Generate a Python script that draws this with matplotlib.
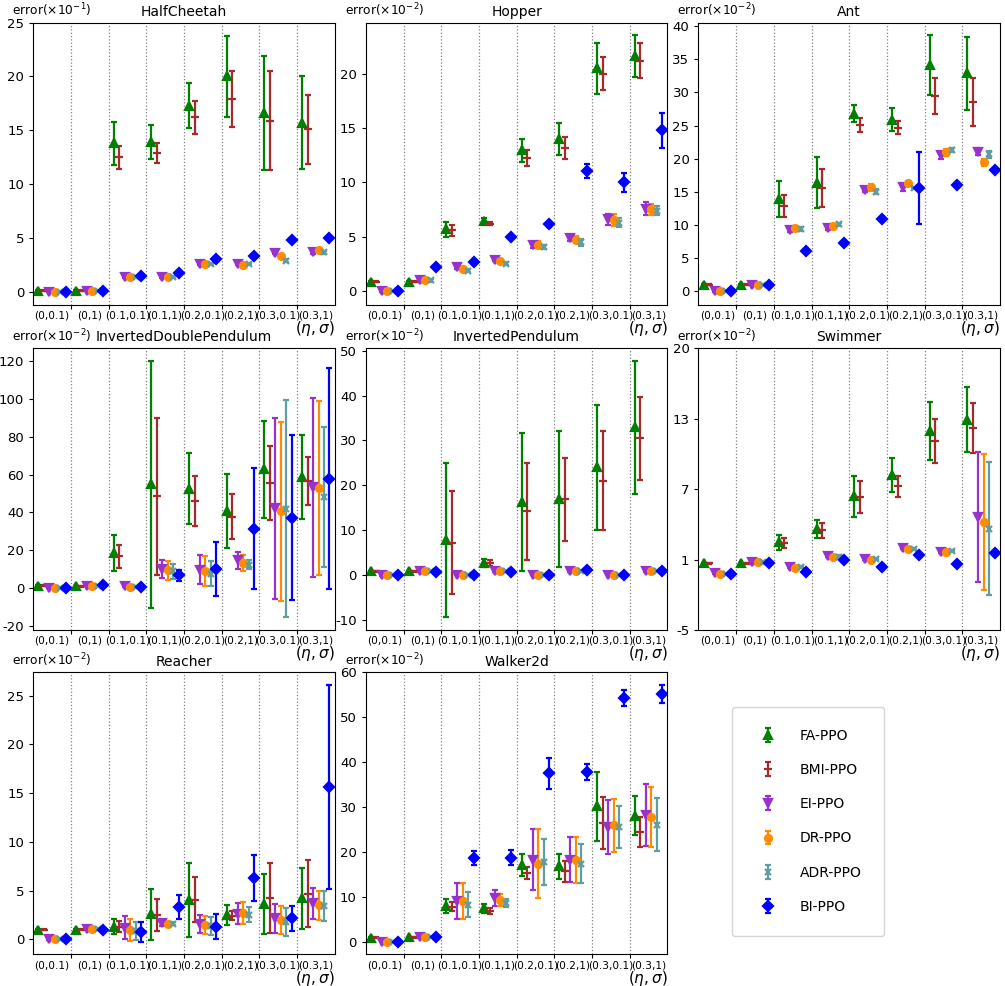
import matplotlib
matplotlib.use("Agg")
import matplotlib.pyplot as plt
import numpy as np

plt.rcParams["axes.unicode_minus"] = False

settings = ["(0,0.1)", "(0,1)", "(0.1,0.1)", "(0.1,1)", "(0.2,0.1)", "(0.2,1)", "(0.3,0.1)", "(0.3,1)"]
methods = ["FA-PPO", "BMI-PPO", "EI-PPO", "DR-PPO", "ADR-PPO", "BI-PPO"]
colors = ["green", "brown", "darkorchid", "darkorange", "cadetblue", "blue"]
markers = ["^", "_", "v", "o", "x", "D"]

envs = ["HalfCheetah", "Hopper", "Ant", "InvertedDoublePendulum", "InvertedPendulum",
        "Swimmer", "Reacher", "Walker2d"]
exponents = [-1, -2, -2, -2, -2, -2, -2, -2]

# rows: FA, BMI, EI, DR, ADR, BI ; columns: settings
hc_mean = [[0.1, 0.1, 13.8, 13.9, 17.3, 20.0, 16.6, 15.7],
           [0.1, 0.1, 12.5, 12.9, 16.2, 17.9, 15.9, 15.1],
           [0.0, 0.1, 1.4, 1.4, 2.6, 2.6, 3.6, 3.65],
           [0.0, 0.1, 1.4, 1.4, 2.6, 2.5, 3.3, 3.85],
           [0.0, 0.1, 1.4, 1.4, 2.6, 2.6, 2.9, 3.65],
           [0.0, 0.1, 1.5, 1.7, 3.0, 3.35, 4.8, 5.0]]
hc_err = [[0.05, 0.05, 2.0, 1.6, 2.1, 3.8, 5.3, 4.3],
          [0.05, 0.05, 1.05, 0.9, 1.55, 2.6, 4.6, 3.2],
          [0.05, 0.05, 0.1, 0.1, 0.1, 0.1, 0.1, 0.1],
          [0.05, 0.05, 0.1, 0.1, 0.1, 0.1, 0.1, 0.1],
          [0.05, 0.05, 0.1, 0.1, 0.1, 0.1, 0.1, 0.1],
          [0.05, 0.05, 0.1, 0.1, 0.1, 0.1, 0.1, 0.1]]

hop_mean = [[0.9, 0.9, 5.7, 6.45, 12.95, 14.0, 20.5, 21.6],
            [0.9, 0.9, 5.6, 6.2, 12.25, 13.2, 20.0, 21.2],
            [0.0, 1.0, 2.2, 2.85, 4.25, 4.9, 6.6, 7.6],
            [0.0, 1.0, 2.05, 2.8, 4.3, 4.75, 6.55, 7.55],
            [0.0, 1.0, 1.9, 2.55, 4.05, 4.5, 6.3, 7.4],
            [0.0, 2.2, 2.7, 5.0, 6.15, 11.05, 10.0, 14.8]]
hop_err = [[0.05, 0.05, 0.7, 0.3, 1.05, 1.45, 2.35, 1.9],
           [0.05, 0.05, 0.5, 0.15, 0.77, 1.0, 1.5, 1.6],
           [0.05, 0.1, 0.15, 0.1, 0.3, 0.25, 0.5, 0.6],
           [0.05, 0.1, 0.15, 0.1, 0.3, 0.3, 0.55, 0.5],
           [0.05, 0.1, 0.15, 0.1, 0.2, 0.3, 0.4, 0.4],
           [0.05, 0.1, 0.15, 0.1, 0.2, 0.6, 0.9, 1.6]]

ant_mean = [[1.0, 1.0, 13.9, 16.4, 26.8, 25.9, 34.1, 32.9],
            [1.0, 1.0, 12.8, 15.6, 25.1, 24.7, 29.5, 28.6],
            [0.0, 1.0, 9.3, 9.5, 15.3, 15.7, 20.5, 21.05],
            [0.0, 1.0, 9.5, 9.9, 15.7, 16.4, 20.95, 19.45],
            [0.0, 1.0, 9.4, 10.1, 15.0, 15.6, 21.25, 20.65],
            [0.0, 0.9, 6.0, 7.3, 10.9, 15.6, 16.05, 18.35]]
ant_err = [[0.05, 0.05, 2.7, 3.85, 1.3, 1.75, 4.5, 5.5],
           [0.05, 0.05, 1.65, 2.9, 1.05, 1.0, 2.7, 3.65],
           [0.1, 0.1, 0.3, 0.3, 0.4, 0.5, 0.5, 0.5],
           [0.1, 0.1, 0.3, 0.2, 0.5, 0.2, 0.5, 0.5],
           [0.1, 0.1, 0.3, 0.2, 0.4, 0.2, 0.3, 0.5],
           [0.1, 0.1, 0.3, 0.3, 0.3, 5.4, 0.3, 0.3]]

idp_mean = [[1.2, 1.0, 18.6, 54.9, 52.6, 40.7, 62.7, 58.9],
            [1.2, 1.0, 16.8, 48.5, 46.0, 37.7, 55.4, 56.5],
            [0.2, 1.2, 0.9, 10.1, 9.7, 14.7, 42.1, 53.3],
            [0.1, 1.2, 0.8, 9.4, 8.85, 13.3, 40.7, 52.7],
            [0.1, 1.2, 0.5, 8.85, 7.6, 12.4, 41.9, 48.0],
            [0.2, 1.5, 0.5, 6.7, 10.1, 31.5, 37.2, 57.9]]
idp_err = [[0.2, 0.2, 9.3, 65.2, 18.6, 19.7, 25.8, 22.2],
           [0.2, 0.2, 6.2, 41.5, 13.3, 11.9, 19.5, 12.7],
           [0.3, 0.3, 0.5, 4.7, 7.6, 4.5, 48.0, 47.2],
           [0.3, 0.3, 0.5, 5.1, 7.9, 4.3, 47.3, 46.0],
           [0.3, 0.3, 0.5, 3.9, 6.6, 2.2, 57.3, 36.9],
           [0.3, 0.3, 0.5, 2.9, 14.4, 32.2, 43.5, 58.2]]

ip_mean = [[0.9, 0.9, 7.9, 2.7, 16.3, 17.0, 24.0, 32.9],
           [0.9, 0.9, 7.3, 2.8, 14.3, 16.9, 21.0, 30.5],
           [0.0, 0.9, 0.2, 0.9, 0.2, 0.9, 0.2, 1.0],
           [0.0, 0.9, 0.1, 0.9, 0.1, 0.9, 0.1, 1.0],
           [0.0, 0.9, 0.1, 0.9, 0.1, 0.9, 0.1, 1.0],
           [0.0, 0.7, 0.0, 0.7, 0.0, 1.2, 0.05, 1.0]]
ip_err = [[0.1, 0.1, 17.2, 0.9, 15.4, 15.1, 14.0, 14.8],
          [0.1, 0.1, 11.4, 0.6, 10.8, 9.3, 11.0, 9.2],
          [0.1, 0.1, 0.15, 0.15, 0.15, 0.15, 0.15, 0.15],
          [0.1, 0.1, 0.15, 0.15, 0.15, 0.15, 0.15, 0.15],
          [0.1, 0.1, 0.15, 0.15, 0.15, 0.15, 0.15, 0.15],
          [0.1, 0.1, 0.15, 0.15, 0.15, 0.15, 0.15, 0.15]]

sw_mean = [[0.93, 0.93, 2.77, 4.0, 6.86, 8.76, 12.67, 13.65],
           [0.93, 0.93, 2.71, 3.84, 6.77, 7.75, 11.73, 12.94],
           [0.04, 0.99, 0.58, 1.58, 1.29, 2.3, 1.94, 5.02],
           [0.0, 0.99, 0.52, 1.52, 1.23, 2.15, 1.88, 4.58],
           [0.0, 0.99, 0.58, 1.52, 1.29, 2.18, 2.0, 3.99],
           [-0.05, 0.93, 0.19, 1.17, 0.55, 1.64, 0.9, 1.82]]
sw_err = [[0.05, 0.05, 0.7, 0.8, 1.8, 1.5, 2.55, 2.9],
          [0.05, 0.05, 0.45, 0.68, 1.4, 0.95, 1.95, 2.2],
          [0.1, 0.1, 0.1, 0.1, 0.1, 0.1, 0.1, 5.75],
          [0.1, 0.1, 0.1, 0.1, 0.1, 0.1, 0.1, 6.0],
          [0.1, 0.1, 0.1, 0.1, 0.1, 0.1, 0.1, 5.9],
          [0.1, 0.1, 0.1, 0.1, 0.1, 0.1, 0.1, 0.1]]

re_mean = [[0.96, 0.96, 1.3, 2.56, 4.04, 2.53, 3.63, 4.2],
           [0.96, 0.96, 1.3, 2.46, 4.04, 2.43, 4.27, 4.69],
           [0.0, 1.0, 1.16, 1.64, 1.57, 2.63, 2.15, 3.69],
           [0.0, 1.0, 0.96, 1.54, 1.47, 2.67, 1.95, 3.49],
           [0.0, 1.0, 0.85, 1.6, 1.37, 2.53, 1.78, 3.45],
           [0.0, 0.96, 0.75, 3.32, 1.3, 6.29, 2.15, 15.63]]
re_err = [[0.05, 0.05, 0.8, 2.6, 3.8, 1.03, 3.05, 3.13],
          [0.05, 0.05, 0.6, 1.65, 2.3, 0.5, 3.6, 3.45],
          [0.1, 0.1, 1.18, 0.25, 0.94, 1.06, 1.5, 1.57],
          [0.1, 0.1, 1.15, 0.2, 0.94, 1.13, 1.45, 1.47],
          [0.1, 0.1, 0.9, 0.15, 0.95, 0.8, 1.45, 1.55],
          [0.1, 0.1, 1.0, 1.23, 1.25, 2.4, 1.3, 10.45]]

wk_mean = [[0.9, 1.0, 7.94, 7.5, 17.07, 16.85, 30.2, 28.1],
           [0.9, 1.0, 7.8, 6.83, 15.37, 15.74, 26.4, 24.5],
           [0.0, 1.0, 9.06, 9.8, 18.34, 18.34, 25.6, 28.2],
           [0.0, 1.0, 9.06, 9.28, 17.45, 18.19, 26.0, 27.8],
           [0.0, 1.0, 8.3, 8.7, 17.74, 17.45, 25.5, 26.1],
           [0.0, 1.1, 18.63, 18.7, 37.5, 37.8, 54.3, 55.2]]
wk_err = [[0.1, 0.1, 1.5, 1.0, 2.4, 2.8, 7.7, 4.4],
          [0.1, 0.1, 1.0, 0.7, 1.4, 2.35, 5.8, 3.3],
          [0.1, 0.1, 3.95, 1.8, 6.85, 5.1, 5.95, 6.9],
          [0.1, 0.1, 3.95, 1.4, 7.6, 5.15, 5.9, 6.7],
          [0.1, 0.1, 2.75, 0.95, 5.1, 4.4, 4.7, 5.9],
          [0.1, 0.1, 1.5, 1.65, 3.5, 1.75, 1.85, 1.9]]

all_mean = [hc_mean, hop_mean, ant_mean, idp_mean, ip_mean, sw_mean, re_mean, wk_mean]
all_err = [hc_err, hop_err, ant_err, idp_err, ip_err, sw_err, re_err, wk_err]

fig = plt.figure(figsize=(10.05, 9.86), dpi=100)
lefts = [0.033, 0.364, 0.695]
bottoms = [0.691, 0.361, 0.032]
w, h = 0.300, 0.286

x = np.arange(len(settings))
offsets = (np.arange(len(methods)) - 2.5) * 0.145

handles = []
for i, env in enumerate(envs):
    ax = fig.add_axes([lefts[i % 3], bottoms[i // 3], w, h])
    mean = np.array(all_mean[i])
    err = np.array(all_err[i])
    for k in range(len(methods)):
        ms = {"^": 5.5, "v": 5.5, "D": 5.5, "o": 5, "x": 4.5, "_": 6}[markers[k]]
        eb = ax.errorbar(x + offsets[k], mean[k], yerr=err[k], fmt=markers[k],
                         color=colors[k], ms=ms, mew=1.6, elinewidth=1.6,
                         capsize=2.5, capthick=1.4, label=methods[k])
        if i == 0:
            handles.append(eb)
    ax.set_xlim(-0.5, len(settings) - 0.5)
    ax.set_xticks(x[:-1] + 0.5)
    ax.set_xticklabels([])
    ax.set_xticks(x, minor=True)
    ax.set_xticklabels(settings, minor=True, fontsize=7.6)
    ax.tick_params(axis="x", which="minor", length=0, pad=4)
    ax.tick_params(axis="x", which="major", length=3)
    ax.tick_params(axis="y", labelsize=9.5, length=3)
    ax.grid(True, axis="x", which="major", linestyle=":", color="gray", lw=0.9)
    if env == "Swimmer":
        ticks = np.linspace(-5, 20, 5)
        ax.set_ylim(-5, 20)
        ax.set_yticks(ticks)
        ax.set_yticklabels([str(int(t)) for t in ticks])
    elif env == "HalfCheetah":
        ax.set_ylim(-1.2, 25)
    elif env == "Walker2d":
        ax.set_ylim(-2.8, 60)
    ax.set_title(env, fontsize=10, pad=5)
    ax.text(-0.07, 1.012, r"error($\times10^{%d}$)" % exponents[i], transform=ax.transAxes,
            ha="left", va="bottom", fontsize=8.8)
    ax.set_xlabel(r"$(\eta,\sigma)$", loc="right", fontsize=11, labelpad=-1)

fig.legend(handles, methods, loc="center", bbox_to_anchor=(0.804, 0.167), fontsize=10,
           labelspacing=1.45, handletextpad=1.3, borderpad=1.6, borderaxespad=0)

fig.savefig("out.png", dpi=100)
